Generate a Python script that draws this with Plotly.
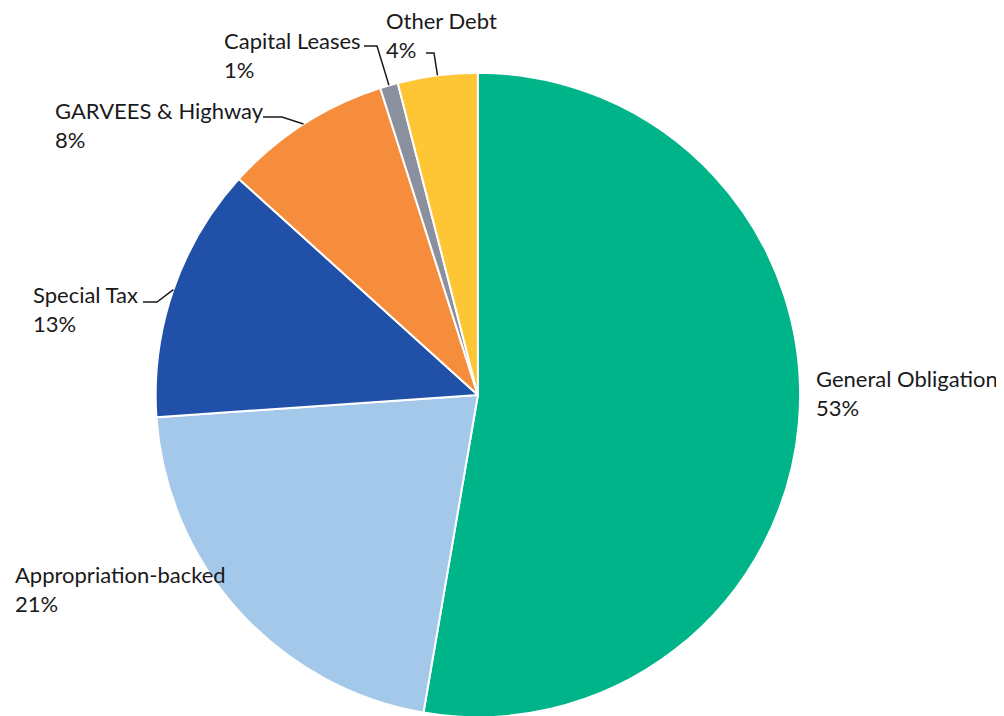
import math
import plotly.graph_objects as go

# debt mix, clockwise from 12 o'clock
categories = ["General Obligation", "Appropriation-backed", "Special Tax",
              "GARVEES & Highway", "Capital Leases", "Other Debt"]
shares = [52.7, 21.2, 12.8, 8.4, 0.9, 4.0]
colors = ["#00b48a", "#a3c8ea", "#2150a8", "#f58d3c", "#8a909e", "#fec534"]

W, H = 1004, 716
PAGE = 8  # the page body margin pushes the figure 8px right and down
dom_x = [0.147, 0.789]
dom_y = [0.0095, 0.9095]

# label text positions (screen pixels: left edge, vertical centre) and leader elbows
label_pos = {
    "General Obligation": (814, 393),
    "Appropriation-backed": (13, 589),
    "Special Tax": (31, 309),
    "GARVEES & Highway": (53, 125),
    "Capital Leases": (222, 55),
    "Other Debt": (384, 35),
}
leaders = {
    "Special Tax": ((143, 302), (157, 302)),
    "GARVEES & Highway": ((263, 117), (282, 117)),
    "Capital Leases": ((364, 46), (377, 46)),
    "Other Debt": ((426, 53), (434, 53)),
}

fig = go.Figure(go.Pie(
    labels=categories, values=shares, sort=False, direction="clockwise",
    rotation=0, marker=dict(colors=colors, line=dict(color="white", width=2)),
    textinfo="none", hoverinfo="label+percent", showlegend=False,
    domain=dict(x=dom_x, y=dom_y),
))

def px2paper(x, y):
    return (x - PAGE) / W, 1 - (y - PAGE) / H

cx = (dom_x[0] + dom_x[1]) / 2 * W + PAGE
cy = (1 - (dom_y[0] + dom_y[1]) / 2) * H + PAGE
r = min((dom_x[1] - dom_x[0]) * W, (dom_y[1] - dom_y[0]) * H) / 2

total = sum(shares)
cum = 0
shapes = []
annotations = []
for name, v in zip(categories, shares):
    mid = (cum + v / 2) / total * 2 * math.pi
    cum += v
    ex, ey = cx + r * math.sin(mid), cy - r * math.cos(mid)
    pct = round(v / total * 100)
    lx, ly = label_pos[name]
    ax, ay = px2paper(lx, ly)
    annotations.append(dict(
        x=ax, y=ay, xref="paper", yref="paper", xanchor="left", yanchor="middle",
        align="left", showarrow=False, text=f"{name}<br>{pct}%",
        font=dict(family="Lato, sans-serif", size=22, color="#1a1a1a"),
    ))
    if name in leaders:
        (sx, sy), (kx, ky) = leaders[name]
        p0, p1, p2 = px2paper(sx, sy), px2paper(kx, ky), px2paper(ex, ey)
        shapes.append(dict(
            type="path", xref="paper", yref="paper",
            path=f"M {p0[0]},{p0[1]} L {p1[0]},{p1[1]} L {p2[0]},{p2[1]}",
            line=dict(color="#1a1a1a", width=1.5),
        ))

fig.update_layout(
    width=W, height=H, margin=dict(l=0, r=0, t=0, b=0),
    paper_bgcolor="white", plot_bgcolor="white",
    annotations=annotations, shapes=shapes,
)

fig.write_html("out.html")
